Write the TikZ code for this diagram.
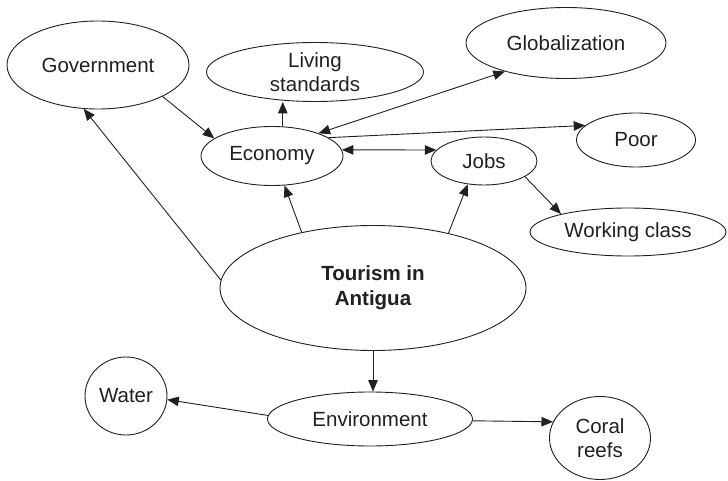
\documentclass[tikz,border=0pt]{standalone}
\usepackage{fontspec}
\setmainfont{Liberation Sans}
\usetikzlibrary{shapes.geometric,arrows.meta}
\definecolor{ink}{HTML}{231F20}
\begin{document}
\begin{tikzpicture}[x=1pt,y=-1pt,
  topic/.style={ellipse,draw=ink,line width=0.9pt,inner sep=0pt,align=center,
    text=ink,font=\fontsize{20.5}{24.5}\selectfont},
  tip/.tip={Triangle[length=11.5pt,width=9.5pt]},
  link/.style={draw=ink,line width=0.9pt,-tip},
  twoway/.style={draw=ink,line width=0.9pt,tip-tip}]
\useasboundingbox (0,0) rectangle (728,481);

% topics
\node[topic,minimum width=182pt,minimum height=88pt] (gov) at (98,65) {Government};
\node[topic,minimum width=217pt,minimum height=59pt] (liv) at (315,72) {Living\\standards};
\node[topic,minimum width=200pt,minimum height=71pt] (glob) at (566,43) {Globalization};
\node[topic,minimum width=142pt,minimum height=59pt] (eco) at (272,156) {Economy};
\node[topic,minimum width=106pt,minimum height=48pt] (jobs) at (484,161) {Jobs};
\node[topic,minimum width=119pt,minimum height=54pt] (poor) at (636,140) {Poor};
\node[topic,minimum width=196pt,minimum height=48pt] (work) at (628,232) {Working class};
\node[topic,minimum width=306pt,minimum height=125pt,font=\fontsize{20.5}{25}\selectfont\bfseries] (tour) at (373,288) {Tourism in\\Antigua};
\node[topic,minimum width=205pt,minimum height=54pt] (env) at (370,419) {Environment};
\node[topic,minimum width=82pt,minimum height=78pt] (water) at (126,396) {Water};
\node[topic,minimum width=101pt,minimum height=83pt] (coral) at (600,438) {Coral\\reefs};

% connectors
\draw[link] (gov.-26.6) -- (eco.163);
\draw[link] (eco.70) -- (eco.70 |- liv.south);
\draw[twoway] (eco.26.6) -- (glob.205);
\draw[link] (eco.18.7) -- (poor.164.9);
\draw[twoway] (eco.5) -- (jobs.167);
\draw[link] (jobs.-21.8) -- (work.165.2);
\draw[link] (tour.177) -- (gov.252.7);
\draw[link] (tour.142.2) -- (eco.-67.2);
\draw[link] (tour.36.6) -- (jobs.235.3);
\draw[link] (tour.south) -- (tour.south |- env.north);
\draw[link] (env.178.9) -- (water.-5.4);
\draw[link] (env.-1.7) -- (coral.161.2);
\end{tikzpicture}
\end{document}
